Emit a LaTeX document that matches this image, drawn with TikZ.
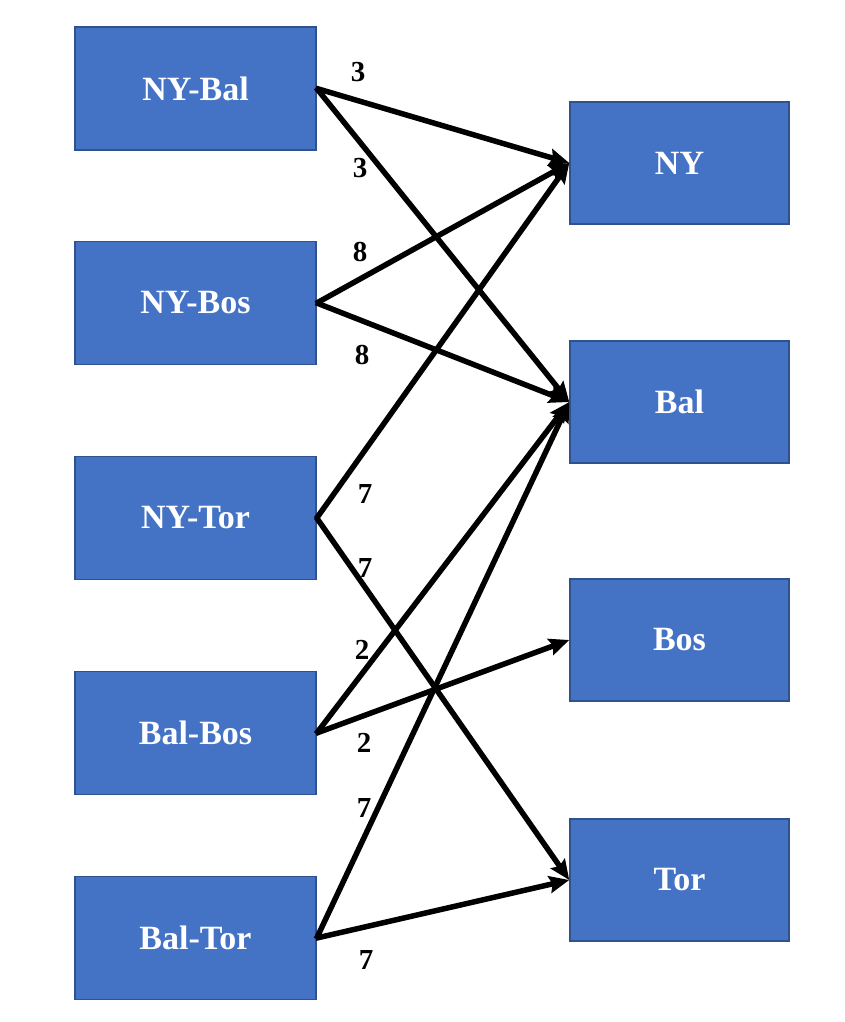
\documentclass[tikz,border=0pt]{standalone}
\usepackage{fontspec}
\setmainfont{Liberation Serif}
\usetikzlibrary{arrows.meta}
\definecolor{boxfill}{HTML}{4472C4}
\definecolor{boxline}{HTML}{2F528F}
\tikzset{
  box/.style={draw=boxline, line width=1.5pt, fill=boxfill, text=white,
    font=\fontsize{34}{38}\selectfont\bfseries, inner sep=0pt},
  leftbox/.style={box, minimum width=241pt, minimum height=123pt},
  rightbox/.style={box, minimum width=219pt, minimum height=122pt},
  flow/.style={line width=5.5pt, -{Stealth[length=20pt,width=17pt,inset=3pt]}, shorten <=-1pt},
  lbl/.style={font=\fontsize{29}{32}\selectfont\bfseries, inner sep=0pt}
}
\begin{document}
\begin{tikzpicture}[x=1pt,y=-1pt]
\useasboundingbox (0,0) rectangle (845,1022);
% left nodes
\node[leftbox] (nybal) at (195.5,88.5) {NY-Bal};
\node[leftbox] (nybos) at (195.5,303) {NY-Bos};
\node[leftbox] (nytor) at (195.5,518) {NY-Tor};
\node[leftbox] (balbos) at (195.5,733) {Bal-Bos};
\node[leftbox] (baltor) at (195.5,938) {Bal-Tor};
% right nodes
\node[rightbox] (ny) at (679.5,163) {NY};
\node[rightbox] (bal) at (679.5,402) {Bal};
\node[rightbox] (bos) at (679.5,640) {Bos};
\node[rightbox] (tor) at (679.5,880) {Tor};
% connectors
\draw[flow] (nybal.east) -- (ny.west);
\draw[flow] (nybal.east) -- (bal.west);
\draw[flow] (nybos.east) -- (ny.west);
\draw[flow] (nybos.east) -- (bal.west);
\draw[flow] (nytor.east) -- (ny.west);
\draw[flow] (nytor.east) -- (tor.west);
\draw[flow] (balbos.east) -- (bal.west);
\draw[flow] (balbos.east) -- (bos.west);
\draw[flow] (baltor.east) -- (bal.west);
\draw[flow] (baltor.east) -- (tor.west);
% labels
\node[lbl] (l1) at (358,72) {3};
\node[lbl] (l2) at (360,168) {3};
\node[lbl] (l3) at (360,252) {8};
\node[lbl] (l4) at (362,355) {8};
\node[lbl] (l5) at (365,494) {7};
\node[lbl] (l6) at (365,568) {7};
\node[lbl] (l7) at (362,650) {2};
\node[lbl] (l8) at (364,743) {2};
\node[lbl] (l9) at (364,808) {7};
\node[lbl] (l10) at (366,960) {7};
\end{tikzpicture}
\end{document}
